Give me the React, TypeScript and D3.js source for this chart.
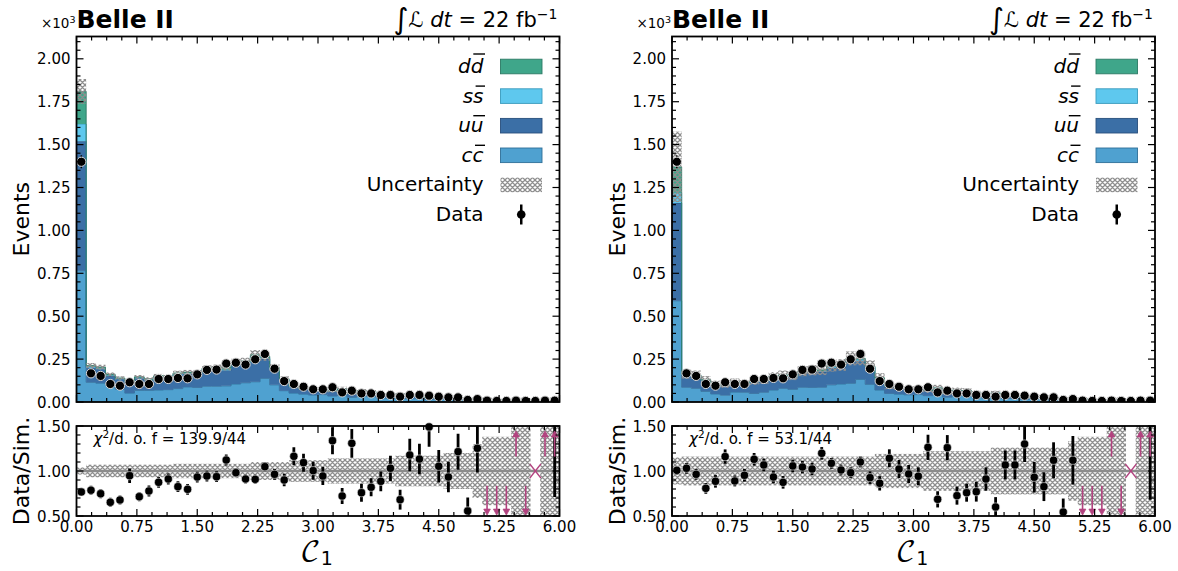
import React from "react";
import * as d3 from "d3";

// ---------------- data (values in units of 10^3 events) ----------------
const nBins = 50;
const xMin = 0;
const xMax = 6;

const dataEvents = [
  1.40, 0.167, 0.152, 0.105, 0.095, 0.115, 0.105, 0.105, 0.134, 0.134,
  0.140, 0.138, 0.161, 0.187, 0.189, 0.224, 0.229, 0.218, 0.249, 0.280,
  0.194, 0.122, 0.105, 0.089, 0.074, 0.074, 0.086, 0.056, 0.066, 0.050,
  0.050, 0.041, 0.041, 0.031, 0.041, 0.041, 0.037, 0.031, 0.027, 0.027,
  0.012, 0.017, 0.008, 0.006, 0.006, 0.008, 0.006, 0.006, 0.008, 0.008,
];

// Left panel (pre-fit) components
const leftCC = [
  0.765, 0.115, 0.110, 0.096, 0.075, 0.052, 0.068, 0.068, 0.070, 0.072,
  0.078, 0.088, 0.085, 0.092, 0.092, 0.094, 0.105, 0.112, 0.118, 0.138,
  0.100, 0.066, 0.052, 0.046, 0.041, 0.043, 0.035, 0.043, 0.027, 0.036,
  0.033, 0.025, 0.022, 0.025, 0.019, 0.020, 0.014, 0.016, 0.016, 0.012,
  0.012, 0.008, 0.010, 0.008, 0.007, 0.002, 0.007, 0.0, 0.002, 0.001,
];
const leftUU = [
  0.755, 0.085, 0.081, 0.055, 0.057, 0.061, 0.071, 0.059, 0.075, 0.067,
  0.081, 0.075, 0.078, 0.094, 0.098, 0.090, 0.112, 0.112, 0.139, 0.113,
  0.089, 0.062, 0.033, 0.031, 0.030, 0.032, 0.026, 0.032, 0.020, 0.027,
  0.025, 0.018, 0.016, 0.019, 0.014, 0.014, 0.009, 0.011, 0.011, 0.008,
  0.008, 0.005, 0.007, 0.005, 0.005, 0.001, 0.005, 0.0, 0.001, 0.001,
];
const leftSS = [
  0.100, 0.006, 0.006, 0.005, 0.004, 0.004, 0.004, 0.004, 0.004, 0.004,
  0.005, 0.005, 0.005, 0.006, 0.006, 0.006, 0.007, 0.007, 0.008, 0.008,
  0.006, 0.004, 0.003, 0.002, 0.0015, 0.0015, 0.0015, 0.0015, 0.0015, 0.0015,
  0.0015, 0.0015, 0.001, 0.001, 0.001, 0.001, 0.001, 0.001, 0.001, 0.001,
  0.001, 0.0005, 0.0005, 0.0005, 0.0005, 0.0, 0.0005, 0.0, 0.0, 0.0,
];
const leftDD = [
  0.190, 0.006, 0.006, 0.005, 0.004, 0.004, 0.004, 0.004, 0.004, 0.004,
  0.005, 0.005, 0.005, 0.006, 0.006, 0.010, 0.009, 0.008, 0.010, 0.008,
  0.006, 0.004, 0.003, 0.002, 0.0015, 0.0015, 0.0015, 0.0015, 0.0015, 0.0015,
  0.0015, 0.0015, 0.001, 0.001, 0.001, 0.001, 0.001, 0.001, 0.001, 0.001,
  0.001, 0.0005, 0.0005, 0.0005, 0.0005, 0.0, 0.0005, 0.0, 0.0, 0.0,
];

// Right panel (post-fit) components
const rightCC = [
  0.590, 0.086, 0.080, 0.062, 0.047, 0.040, 0.058, 0.057, 0.050, 0.057,
  0.070, 0.080, 0.074, 0.086, 0.085, 0.086, 0.100, 0.105, 0.109, 0.132,
  0.103, 0.070, 0.050, 0.046, 0.042, 0.043, 0.037, 0.045, 0.028, 0.038,
  0.036, 0.029, 0.025, 0.028, 0.021, 0.021, 0.015, 0.018, 0.018, 0.013,
  0.012, 0.008, 0.010, 0.008, 0.007, 0.002, 0.007, 0.0, 0.002, 0.001,
];
const rightUU = [
  0.570, 0.068, 0.070, 0.060, 0.054, 0.052, 0.054, 0.047, 0.063, 0.063,
  0.072, 0.070, 0.070, 0.083, 0.090, 0.089, 0.099, 0.099, 0.131, 0.109,
  0.096, 0.063, 0.038, 0.037, 0.032, 0.033, 0.028, 0.034, 0.021, 0.028,
  0.027, 0.021, 0.018, 0.022, 0.015, 0.015, 0.011, 0.013, 0.013, 0.009,
  0.008, 0.006, 0.007, 0.005, 0.005, 0.001, 0.005, 0.0, 0.001, 0.001,
];
const rightSS = [
  0.060, 0.004, 0.004, 0.004, 0.003, 0.003, 0.003, 0.003, 0.003, 0.003,
  0.004, 0.004, 0.004, 0.005, 0.005, 0.005, 0.006, 0.006, 0.007, 0.007,
  0.005, 0.004, 0.002, 0.002, 0.0015, 0.0015, 0.0015, 0.0015, 0.0015, 0.0015,
  0.0015, 0.0015, 0.001, 0.001, 0.001, 0.001, 0.001, 0.001, 0.001, 0.001,
  0.001, 0.0005, 0.0005, 0.0005, 0.0005, 0.0, 0.0005, 0.0, 0.0, 0.0,
];
const rightDD = [
  0.150, 0.004, 0.004, 0.004, 0.003, 0.003, 0.003, 0.003, 0.003, 0.003,
  0.004, 0.004, 0.004, 0.005, 0.005, 0.007, 0.006, 0.006, 0.007, 0.007,
  0.005, 0.004, 0.002, 0.002, 0.0015, 0.0015, 0.0015, 0.0015, 0.0015, 0.0015,
  0.0015, 0.0015, 0.001, 0.001, 0.001, 0.001, 0.001, 0.001, 0.001, 0.001,
  0.001, 0.0005, 0.0005, 0.0005, 0.0005, 0.0, 0.0005, 0.0, 0.0, 0.0,
];

// Ratio Data/Sim. (null = no simulation in bin)
const leftRatio = [
  0.767, 0.786, 0.748, 0.652, 0.678, 0.948, 0.715, 0.778, 0.874, 0.911,
  0.826, 0.796, 0.933, 0.944, 0.937, 1.122, 0.981, 0.911, 0.907, 1.048,
  0.963, 0.900, 1.163, 1.093, 1.004, 0.944, 1.337, 0.722, 1.307, 0.759,
  0.819, 0.885, 1.030, 0.681, 1.178, 1.133, 1.490, 1.052, 0.933, 1.215,
  0.556, 1.252, 0.35, 0.30, 0.30, 2.5, 0.30, null, 2.5, 2.5,
];
const leftRatioErr = [
  0.04, 0.05, 0.05, 0.05, 0.05, 0.08, 0.05, 0.06, 0.06, 0.06,
  0.06, 0.06, 0.06, 0.06, 0.06, 0.06, 0.05, 0.05, 0.05, 0.05,
  0.06, 0.07, 0.10, 0.10, 0.10, 0.10, 0.15, 0.09, 0.16, 0.10,
  0.10, 0.11, 0.14, 0.11, 0.18, 0.17, 0.22, 0.18, 0.17, 0.20,
  0.15, 0.27, 0.10, 0.10, 0.10, 0.80, 0.10, 0.0, 0.80, 1.79,
];
const leftUnc = [
  0.04, 0.07, 0.07, 0.07, 0.07, 0.07, 0.07, 0.07, 0.07, 0.07,
  0.08, 0.08, 0.08, 0.08, 0.08, 0.08, 0.08, 0.08, 0.10, 0.10,
  0.10, 0.10, 0.12, 0.12, 0.12, 0.12, 0.14, 0.14, 0.14, 0.14,
  0.14, 0.14, 0.14, 0.17, 0.17, 0.17, 0.17, 0.17, 0.20, 0.20,
  0.20, 0.30, 0.38, 0.38, 0.38, 1.0, 1.0, 0.0, 1.0, 1.0,
];

const rightRatio = [
  1.007, 1.030, 0.963, 0.807, 0.885, 1.160, 0.889, 0.952, 1.130, 1.067,
  0.933, 0.874, 1.056, 1.044, 1.022, 1.196, 1.085, 1.011, 0.981, 1.100,
  0.926, 0.863, 1.141, 1.022, 0.967, 0.941, 1.263, 0.685, 1.259, 0.726,
  0.759, 0.770, 0.911, 0.600, 1.067, 1.067, 1.300, 0.930, 0.826, 1.119,
  0.544, 1.119, 0.35, 0.30, 0.30, 2.5, 0.30, null, 2.5, 2.5,
];
const rightRatioErr = [
  0.05, 0.06, 0.06, 0.06, 0.07, 0.08, 0.06, 0.07, 0.07, 0.07,
  0.07, 0.07, 0.07, 0.07, 0.07, 0.07, 0.06, 0.06, 0.06, 0.06,
  0.07, 0.08, 0.10, 0.10, 0.10, 0.10, 0.14, 0.09, 0.14, 0.10,
  0.10, 0.11, 0.13, 0.11, 0.16, 0.16, 0.20, 0.17, 0.16, 0.20,
  0.15, 0.27, 0.10, 0.10, 0.10, 0.80, 0.10, 0.0, 0.80, 1.82,
];
const rightUnc = [
  0.15, 0.16, 0.16, 0.16, 0.16, 0.16, 0.16, 0.16, 0.16, 0.16,
  0.16, 0.16, 0.16, 0.16, 0.16, 0.16, 0.16, 0.16, 0.16, 0.16,
  0.16, 0.19, 0.19, 0.19, 0.19, 0.19, 0.22, 0.22, 0.22, 0.22,
  0.22, 0.22, 0.22, 0.26, 0.26, 0.26, 0.26, 0.26, 0.26, 0.26,
  0.26, 0.33, 0.38, 0.38, 0.38, 1.0, 1.0, 0.0, 1.0, 1.0,
];

const chi2Labels = ["139.9/44", "53.1/44"];
const xTickLabels = ["0.00", "0.75", "1.50", "2.25", "3.00", "3.75", "4.50", "5.25", "6.00"];
const yTickLabelsMain = ["0.00", "0.25", "0.50", "0.75", "1.00", "1.25", "1.50", "1.75", "2.00"];
const yTickLabelsRatio = ["0.50", "1.00", "1.50"];
const componentKeys = ["cc", "uu", "ss", "dd"];
const componentColors = ["#4fa1d0", "#3b6fa6", "#5ec8ee", "#3fa68a"];
const componentEdges = ["#2f6f98", "#284f7c", "#3a9bbd", "#2c7a64"];
const legendNames = ["d", "s", "u", "c"];

// ---------------- layout ----------------
const PW = 483;
const MAIN_TOP = 36.5;
const MAIN_BOT = 402;
const R_TOP = 426;
const R_BOT = 516;
const MAGENTA = "#b2437f";
const FONT = "DejaVu Sans, sans-serif";
const letterW: Record<string, number> = { d: 12.7, s: 10.4, u: 12.7, c: 11.0 };
const letterH: Record<string, number> = { d: 19, s: 16.5, u: 16.5, c: 16.5 };

function Ticks({ scale, values, orient, pos, len }: any) {
  return (
    <g>
      {values.map((v: number, i: number) => {
        const p = scale(v);
        if (orient === "bottom") return <line key={i} x1={p} x2={p} y1={pos} y2={pos - len} stroke="#000" strokeWidth={1.2} />;
        if (orient === "top") return <line key={i} x1={p} x2={p} y1={pos} y2={pos + len} stroke="#000" strokeWidth={1.2} />;
        if (orient === "left") return <line key={i} y1={p} y2={p} x1={pos} x2={pos + len} stroke="#000" strokeWidth={1.2} />;
        return <line key={i} y1={p} y2={p} x1={pos} x2={pos - len} stroke="#000" strokeWidth={1.2} />;
      })}
    </g>
  );
}

function Panel({ id, x0, comps, ratio, ratioErr, unc, chi2 }: any) {
  const x = d3.scaleLinear().domain([xMin, xMax]).range([x0, x0 + PW]);
  const y = d3.scaleLinear().domain([0, 2.13]).range([MAIN_BOT, MAIN_TOP]);
  const yr = d3.scaleLinear().domain([0.5, 1.5]).range([R_BOT, R_TOP]);
  const bw = (xMax - xMin) / nBins;
  const edges = d3.range(nBins + 1).map((i) => xMin + i * bw);
  const centers = d3.range(nBins).map((i) => xMin + (i + 0.5) * bw);

  const table = d3.range(nBins).map((i) => ({
    cc: comps[0][i], uu: comps[1][i], ss: comps[2][i], dd: comps[3][i],
  }));
  const stack = d3.stack<any>().keys(componentKeys)(table);
  const total = table.map((r) => r.cc + r.uu + r.ss + r.dd);

  const idx = d3.range(nBins + 1);
  const at = (arr: number[], j: number) => arr[Math.min(j, nBins - 1)];

  const xMajor = d3.range(0, 6.0001, 0.75);
  const xMinor = d3.range(0, 6.0001, 0.1875).filter((v) => Math.abs(v / 0.75 - Math.round(v / 0.75)) > 1e-6);
  const yMajor = d3.range(0, 2.0001, 0.25);
  const yMinor = d3.range(0, 2.13, 0.05).filter((v) => Math.abs(v / 0.25 - Math.round(v / 0.25)) > 1e-6);
  const rMajor = [0.5, 1.0, 1.5];
  const rMinor = d3.range(0.6, 1.45, 0.1).filter((v) => Math.abs(v - 1) > 1e-6);

  const legendRows = d3.range(6).map((i) => 66.5 + i * 29.6);
  const lx = x0 + 407;
  const sx = x0 + 424;

  return (
    <g fontFamily={FONT}>
      <defs>
        <clipPath id={`main-${id}`}>
          <rect x={x0} y={MAIN_TOP} width={PW} height={MAIN_BOT - MAIN_TOP} />
        </clipPath>
        <clipPath id={`ratio-${id}`}>
          <rect x={x0} y={R_TOP} width={PW} height={R_BOT - R_TOP} />
        </clipPath>
      </defs>

      {/* stacked histogram */}
      <g clipPath={`url(#main-${id})`}>
        {stack.map((layer, k) => {
          const lo = layer.map((d) => d[0]);
          const hi = layer.map((d) => d[1]);
          const area = d3.area<number>()
            .x((j) => x(edges[j]))
            .y0((j) => y(at(lo, j)))
            .y1((j) => y(at(hi, j)))
            .curve(d3.curveStepAfter);
          const line = d3.line<number>()
            .x((j) => x(edges[j]))
            .y((j) => y(at(hi, j)))
            .curve(d3.curveStepAfter);
          return (
            <g key={k}>
              <path d={area(idx) || ""} fill={componentColors[k]} />
              <path d={line(idx) || ""} fill="none" stroke={componentEdges[k]} strokeWidth={0.9} />
            </g>
          );
        })}
        {/* uncertainty */}
        {d3.range(nBins).map((i) => {
          if (total[i] <= 0 || unc[i] <= 0) return null;
          const top = y(total[i] * (1 + unc[i]));
          const bot = y(Math.max(0, total[i] * (1 - unc[i])));
          return <rect key={i} x={x(edges[i])} y={top} width={x(edges[i + 1]) - x(edges[i])} height={bot - top} fill="url(#hatch)" />;
        })}
        {/* data */}
        {centers.map((c, i) => {
          const v = dataEvents[i];
          const e = Math.sqrt(v * 1000) / 1000;
          return (
            <g key={i}>
              <line x1={x(c)} x2={x(c)} y1={y(v + e)} y2={y(Math.max(0, v - e))} stroke="#000" strokeWidth={1.5} />
              <circle cx={x(c)} cy={y(v)} r={4.6} fill="#000" stroke="#d9d9d9" strokeWidth={1} />
            </g>
          );
        })}
      </g>

      {/* main frame + ticks */}
      <rect x={x0} y={MAIN_TOP} width={PW} height={MAIN_BOT - MAIN_TOP} fill="none" stroke="#000" strokeWidth={1.8} />
      <Ticks scale={x} values={xMajor} orient="bottom" pos={MAIN_BOT} len={7} />
      <Ticks scale={x} values={xMinor} orient="bottom" pos={MAIN_BOT} len={4} />
      <Ticks scale={x} values={xMajor} orient="top" pos={MAIN_TOP} len={7} />
      <Ticks scale={x} values={xMinor} orient="top" pos={MAIN_TOP} len={4} />
      <Ticks scale={y} values={yMajor} orient="left" pos={x0} len={7} />
      <Ticks scale={y} values={yMinor} orient="left" pos={x0} len={4} />
      <Ticks scale={y} values={yMajor} orient="right" pos={x0 + PW} len={7} />
      <Ticks scale={y} values={yMinor} orient="right" pos={x0 + PW} len={4} />
      {yMajor.map((v, i) => (
        <text key={i} x={x0 - 6} y={y(v) + 5.5} fontSize={15} textAnchor="end">{yTickLabelsMain[i]}</text>
      ))}

      {/* header */}
      <text x={x0 - 1} y={27.5} fontSize={13.5} textAnchor="end">×10<tspan fontSize={9.5} dy={-5}>3</tspan></text>
      <text x={x0} y={27.5} fontSize={25} fontWeight="bold">Belle II</text>
      <text x={x0 + 481} y={27} fontSize={21} textAnchor="end">
        <tspan fontSize={29} dy={2}>∫</tspan>
        <tspan dy={-2}>ℒ </tspan>
        <tspan fontStyle="italic">dt</tspan>
        <tspan> = 22 fb</tspan>
        <tspan fontSize={14} dy={-8}>−1</tspan>
      </text>

      {/* legend */}
      {legendNames.map((nm, i) => {
        const k = 3 - i;
        const base = legendRows[i] + 6.5;
        return (
          <g key={i}>
            <text x={lx} y={base} fontSize={20} fontStyle="italic" textAnchor="end">{nm}{nm}</text>
            <line x1={lx - letterW[nm] + 2.5} x2={lx + 1.5} y1={base - letterH[nm]} y2={base - letterH[nm]} stroke="#000" strokeWidth={1.4} />
            <rect x={sx} y={legendRows[i] - 7.3} width={41.5} height={14.6} fill={componentColors[k]} stroke={componentEdges[k]} strokeWidth={0.9} />
          </g>
        );
      })}
      <text x={lx} y={legendRows[4] + 6.5} fontSize={20} textAnchor="end">Uncertainty</text>
      <rect x={sx} y={legendRows[4] - 7.3} width={41.5} height={14.6} fill="url(#hatch)" />
      <text x={lx} y={legendRows[5] + 6.5} fontSize={20} textAnchor="end">Data</text>
      <line x1={sx + 20.75} x2={sx + 20.75} y1={legendRows[5] - 10} y2={legendRows[5] + 10} stroke="#000" strokeWidth={2.5} />
      <circle cx={sx + 20.75} cy={legendRows[5]} r={4.3} fill="#000" />

      {/* ratio panel */}
      <g clipPath={`url(#ratio-${id})`}>
        {d3.range(nBins).map((i) => {
          if (unc[i] <= 0) return null;
          const top = yr(1 + unc[i]);
          const bot = yr(1 - unc[i]);
          return <rect key={i} x={x(edges[i])} y={top} width={x(edges[i + 1]) - x(edges[i])} height={bot - top} fill="url(#hatch)" />;
        })}
        <line x1={x0} x2={x0 + PW} y1={yr(1)} y2={yr(1)} stroke="#8c8c8c" strokeWidth={2.6} />
        {centers.map((c, i) => {
          const r = ratio[i];
          if (r === null) return null;
          const e = ratioErr[i];
          return <line key={i} x1={x(c)} x2={x(c)} y1={yr(r + e)} y2={yr(r - e)} stroke="#000" strokeWidth={2.8} />;
        })}
      </g>
      {centers.map((c, i) => {
        const r = ratio[i];
        const cx = x(c);
        if (r === null) {
          return (
            <g key={i} stroke={MAGENTA} strokeWidth={1.3}>
              <line x1={cx - 5.5} x2={cx + 5.5} y1={yr(1) - 7} y2={yr(1) + 7} />
              <line x1={cx - 5.5} x2={cx + 5.5} y1={yr(1) + 7} y2={yr(1) - 7} />
            </g>
          );
        }
        if (r > 1.5) {
          const y1 = yr(1.16), y2 = yr(1.445);
          return (
            <g key={i}>
              <line x1={cx} x2={cx} y1={y1} y2={y2 + 5} stroke={MAGENTA} strokeWidth={1.6} />
              <path d={`M${cx - 3.3},${y2 + 6} L${cx},${y2} L${cx + 3.3},${y2 + 6} Z`} fill={MAGENTA} stroke={MAGENTA} strokeWidth={0.8} />
            </g>
          );
        }
        if (r < 0.5) {
          const y1 = yr(0.835), y2 = yr(0.51);
          return (
            <g key={i}>
              <line x1={cx} x2={cx} y1={y1} y2={y2 - 5} stroke={MAGENTA} strokeWidth={1.6} />
              <path d={`M${cx - 3.3},${y2 - 6} L${cx},${y2} L${cx + 3.3},${y2 - 6} Z`} fill={MAGENTA} stroke={MAGENTA} strokeWidth={0.8} />
            </g>
          );
        }
        return <circle key={i} cx={cx} cy={yr(r)} r={4.1} fill="#000" stroke="#e6e6e6" strokeWidth={0.6} />;
      })}
      <rect x={x0} y={R_TOP} width={PW} height={R_BOT - R_TOP} fill="none" stroke="#000" strokeWidth={1.8} />
      <Ticks scale={x} values={xMajor} orient="bottom" pos={R_BOT} len={7} />
      <Ticks scale={x} values={xMinor} orient="bottom" pos={R_BOT} len={4} />
      <Ticks scale={x} values={xMajor} orient="top" pos={R_TOP} len={7} />
      <Ticks scale={x} values={xMinor} orient="top" pos={R_TOP} len={4} />
      <Ticks scale={yr} values={rMajor} orient="left" pos={x0} len={7} />
      <Ticks scale={yr} values={rMinor} orient="left" pos={x0} len={4} />
      <Ticks scale={yr} values={rMajor} orient="right" pos={x0 + PW} len={7} />
      <Ticks scale={yr} values={rMinor} orient="right" pos={x0 + PW} len={4} />
      {rMajor.map((v, i) => (
        <text key={i} x={x0 - 6} y={yr(v) + 5.5} fontSize={15} textAnchor="end">{yTickLabelsRatio[i]}</text>
      ))}
      {xMajor.map((v, i) => (
        <text key={i} x={x(v)} y={532} fontSize={15} textAnchor="middle">{xTickLabels[i]}</text>
      ))}
      <text x={x0 + 17} y={444} fontSize={15}>
        <tspan fontStyle="italic">χ</tspan>
        <tspan fontSize={10.5} dy={-6}>2</tspan>
        <tspan dy={6}>/d. o. f = {chi2}</tspan>
      </text>

      {/* axis titles */}
      <text transform={`translate(${x0 - 55},${(MAIN_TOP + MAIN_BOT) / 2}) rotate(-90)`} fontSize={22} textAnchor="middle" dominantBaseline="central">Events</text>
      <text transform={`translate(${x0 - 55},${(R_TOP + R_BOT) / 2}) rotate(-90)`} fontSize={22} textAnchor="middle" dominantBaseline="central">Data/Sim.</text>
      <text x={x0 + 240} y={561} fontSize={28} textAnchor="middle" fontFamily="DejaVu Math TeX Gyre, DejaVu Serif, serif">
        𝒞<tspan fontSize={19} dy={4} fontFamily={FONT}>1</tspan>
      </text>
    </g>
  );
}

export default function App() {
  return (
    <svg width={1178} height={571} style={{ display: "block", position: "absolute", left: 0, top: 0, background: "#fff" }}>
      <defs>
        <pattern id="hatch" patternUnits="userSpaceOnUse" width={5} height={5}>
          <path d="M0,0 L5,5 M5,0 L0,5 M-1,4 L1,6 M4,-1 L6,1 M-1,1 L1,-1 M4,6 L6,4" stroke="#8e8e8e" strokeWidth={1.3} fill="none" />
        </pattern>
      </defs>
      <rect x={0} y={0} width={1178} height={571} fill="#fff" />
      <Panel id="l" x0={76.5} comps={[leftCC, leftUU, leftSS, leftDD]} ratio={leftRatio} ratioErr={leftRatioErr} unc={leftUnc} chi2={chi2Labels[0]} />
      <Panel id="r" x0={672} comps={[rightCC, rightUU, rightSS, rightDD]} ratio={rightRatio} ratioErr={rightRatioErr} unc={rightUnc} chi2={chi2Labels[1]} />
    </svg>
  );
}
